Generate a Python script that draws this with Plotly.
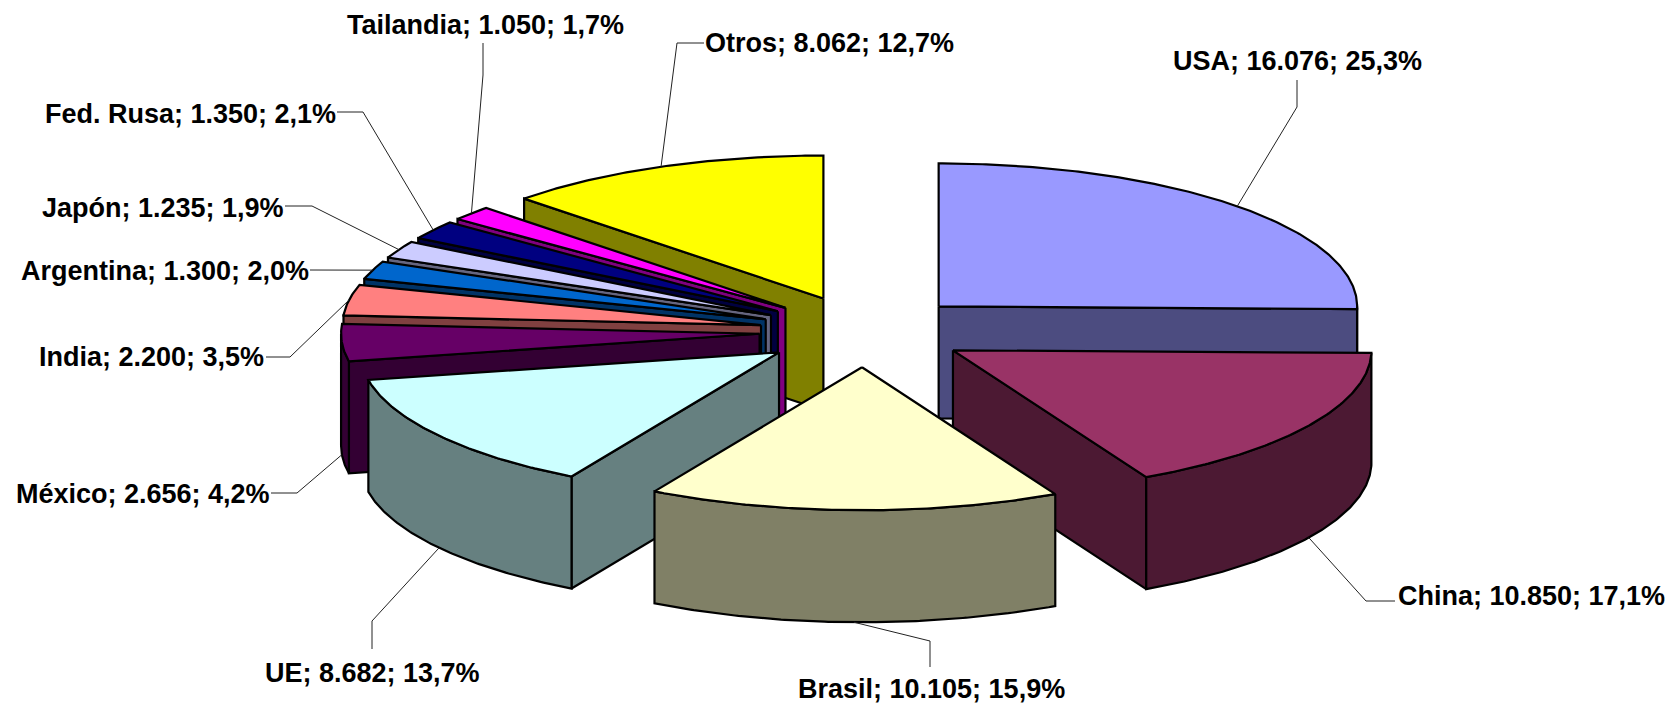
import math
import plotly.graph_objects as go

categories = ["USA", "China", "Brasil", "UE", "México", "India", "Argentina", "Japón", "Fed. Rusa", "Tailandia", "Otros"]
values = [16076, 10850, 10105, 8682, 2656, 2200, 1300, 1235, 1350, 1050, 8062]
value_labels = ["16.076", "10.850", "10.105", "8.682", "2.656", "2.200", "1.300", "1.235", "1.350", "1.050", "8.062"]
top_colors = ["#9999FF", "#993366", "#FFFFCC", "#CCFFFF", "#660066", "#FF8080", "#0066CC", "#CCCCFF", "#000080", "#FF00FF", "#FFFF00"]
side_colors = ["#4C4C80", "#4C1933", "#808066", "#668080", "#330033", "#804040", "#003366", "#666680", "#000040", "#800080", "#808000"]

# Projection of the tilted pie, in page pixels
CX, CY, RX, RY, DEPTH, EXPLODE = 864.0, 331.5, 418.5, 143.0, 112.0, 0.25
W, H = 1674, 706

# Label placement: text centre and elbow of each leader line
label_pos = {
    "USA": (1297, 61), "China": (1531, 596), "Brasil": (931, 689), "UE": (372, 673),
    "México": (143, 494), "India": (151, 357), "Argentina": (165, 271), "Japón": (163, 208),
    "Fed. Rusa": (190, 114), "Tailandia": (485, 25), "Otros": (829, 43),
}
leaders = {
    "USA": [(1297, 80), (1297, 107)], "China": [(1395, 601), (1366, 601)], "Brasil": [(930, 667), (930, 641)],
    "UE": [(372, 649), (372, 621)], "México": [(271, 493), (297, 493)], "India": [(266, 357), (290, 357)],
    "Argentina": [(310, 270)], "Japón": [(285, 206), (312, 206)], "Fed. Rusa": [(337, 112), (363, 112)],
    "Tailandia": [(483, 43), (483, 75)], "Otros": [(704, 43), (677, 43)],
}

total = sum(values)
spans = []
acc = 0.0
for v in values:
    spans.append((acc / total * 360, (acc + v) / total * 360))
    acc += v


def rim(apex, deg, dz=0.0):
    t = math.radians(deg)
    return apex[0] + RX * math.sin(t), apex[1] - RY * math.cos(t) + dz


def apex_of(a0, a1):
    m = math.radians((a0 + a1) / 2)
    return CX + EXPLODE * RX * math.sin(m), CY - EXPLODE * RY * math.cos(m)


def arc(apex, a0, a1, dz=0.0):
    n = max(4, int(abs(a1 - a0) * 2))
    return [rim(apex, a0 + (a1 - a0) * i / n, dz) for i in range(n + 1)]


fig = go.Figure()


def poly(pts, color):
    fig.add_trace(go.Scatter(
        x=[p[0] for p in pts] + [pts[0][0]], y=[p[1] for p in pts] + [pts[0][1]],
        mode="lines", fill="toself", fillcolor=color,
        line=dict(color="#000000", width=2.2), hoverinfo="skip", showlegend=False))


# Back to front: USA, then counter-clockwise through the small slices, then the front slices
order = [0, 10, 9, 8, 7, 6, 5, 4, 3, 1, 2]
for i in order:
    a0, a1 = spans[i]
    ap = apex_of(a0, a1)
    down = (ap[0], ap[1] + DEPTH)
    if math.sin(math.radians(a0)) < 0:
        p = rim(ap, a0)
        poly([ap, p, (p[0], p[1] + DEPTH), down], side_colors[i])
    if math.sin(math.radians(a1)) > 0:
        p = rim(ap, a1)
        poly([ap, p, (p[0], p[1] + DEPTH), down], side_colors[i])
    f0, f1 = max(a0, 90), min(a1, 270)
    if f1 > f0:
        poly(arc(ap, f0, f1) + arc(ap, f1, f0, DEPTH), side_colors[i])
    poly([ap] + arc(ap, a0, a1), top_colors[i])

# Leader lines end on the rim at each slice's middle angle
for i, name in enumerate(categories):
    a0, a1 = spans[i]
    mid = (a0 + a1) / 2
    ap = apex_of(a0, a1)
    end = rim(ap, mid, 0 if math.cos(math.radians(mid)) >= 0 else DEPTH)
    pts = leaders[name] + [end]
    fig.add_trace(go.Scatter(x=[p[0] for p in pts], y=[p[1] for p in pts], mode="lines",
                             line=dict(color="#222222", width=1), hoverinfo="skip", showlegend=False))
    pct = f"{values[i] / total * 100:.1f}".replace(".", ",")
    fig.add_annotation(x=label_pos[name][0], y=label_pos[name][1], xref="x", yref="y",
                       text=f"<b>{name}; {value_labels[i]}; {pct}%</b>", showarrow=False,
                       xanchor="center", yanchor="middle",
                       font=dict(family="Liberation Sans, Arial, sans-serif", size=27, color="#000000"))

fig.update_layout(width=W, height=H, margin=dict(l=0, r=0, t=0, b=0), autosize=False,
                  paper_bgcolor="#FFFFFF", plot_bgcolor="#FFFFFF", showlegend=False,
                  xaxis=dict(range=[0, W], visible=False, fixedrange=True),
                  yaxis=dict(range=[H, 0], visible=False, fixedrange=True))
fig.write_html("out.html", config={"displayModeBar": False},
               post_script="document.body.style.margin='0';")
